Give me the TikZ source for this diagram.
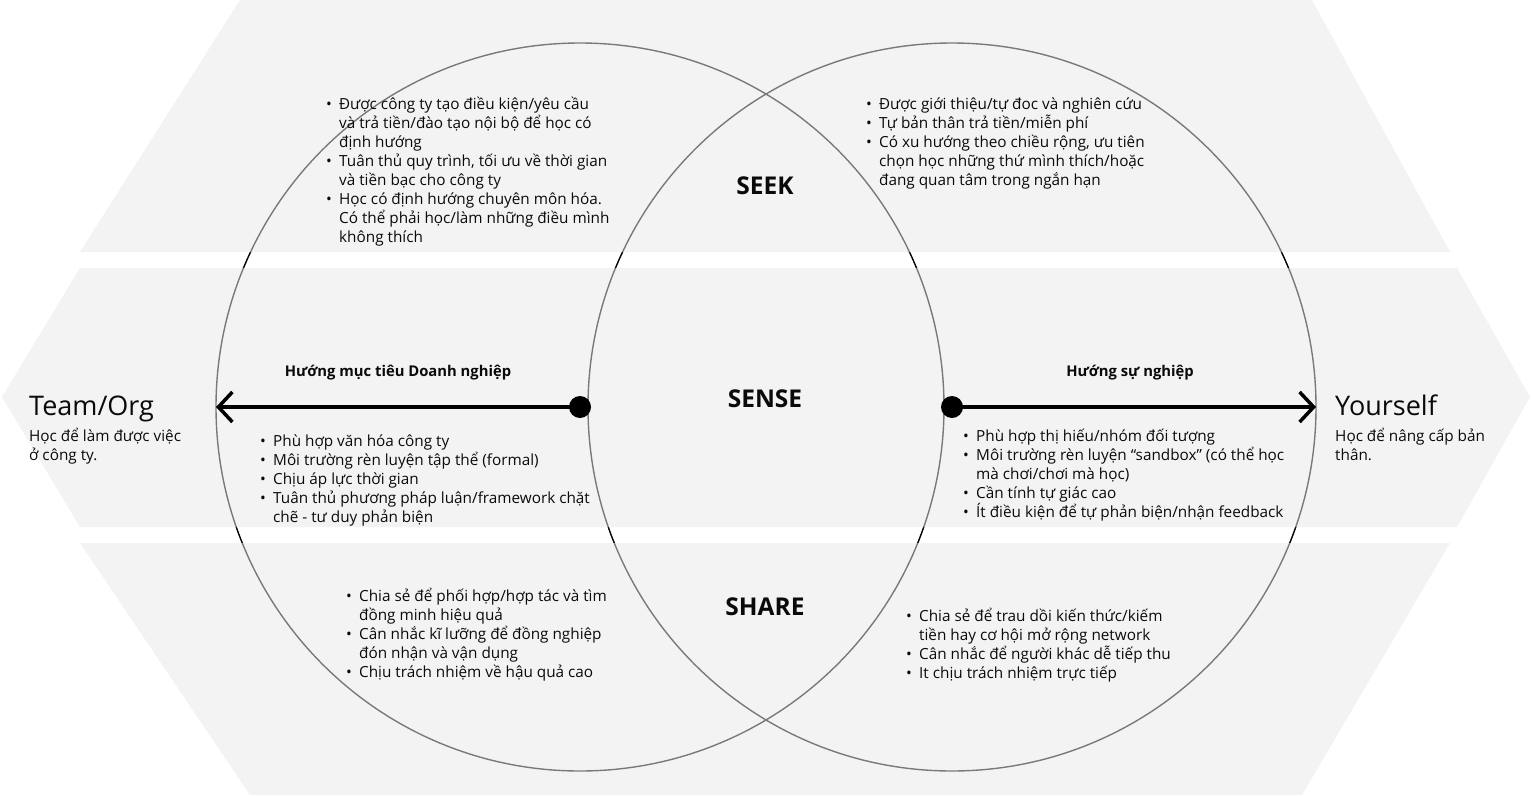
\documentclass[tikz,border=0pt]{standalone}
\usepackage{fontspec}
\setmainfont{Open Sans}
\usetikzlibrary{arrows.meta}
\definecolor{band}{HTML}{E9E9E9}
\definecolor{ink}{HTML}{0A0A0A}
% bullet cell of fixed width, text column follows
\newcommand\bl{\makebox[13pt][l]{\textbullet}}
\newenvironment{blist}{\begin{tabular}[t]{@{}l@{}l@{}}}{\end{tabular}}
\newenvironment{lines}{\begin{tabular}[t]{@{}l@{}}}{\end{tabular}}
\tikzset{
  ring/.style={circle, draw=black, line width=1.4pt, minimum size=728pt, inner sep=0pt},
  bandfill/.style={fill=band, fill opacity=0.52, draw=none},
  listtext/.style={anchor=base west, inner sep=0pt, text=ink, font=\fontsize{15.3}{19}\selectfont},
  zone/.style={anchor=base, inner sep=0pt, text=ink, font=\bfseries\fontsize{24.5}{28}\selectfont},
  dirlabel/.style={anchor=base, inner sep=0pt, text=ink, font=\bfseries\fontsize{14.8}{18}\selectfont},
  side/.style={anchor=base west, inner sep=0pt, text=ink, font=\fontsize{27}{32}\selectfont},
  sidesub/.style={anchor=base west, inner sep=0pt, text=ink, font=\fontsize{15.3}{19}\selectfont},
  hub/.style={circle, fill=black, minimum size=22pt, inner sep=0pt},
  pointer/.style={line width=3.5pt, line cap=round, -{Straight Barb[length=14pt,width=30pt,line width=3.5pt]}},
}
\begin{document}
\begin{tikzpicture}[x=1pt,y=-1pt]
\useasboundingbox[fill=white] (0,0) rectangle (1531,795);

% the two overlapping circles
\node[ring] (orgring) at (580,407) {};
\node[ring] (selfring) at (952,407) {};

% translucent bands laid over the circles
\path[bandfill] (240,0) -- (1312,0) -- (1450,252) -- (80,252) -- cycle;
\path[bandfill] (80,268) -- (1457,268) -- (1530,397) -- (1457,527) -- (80,527) -- (2,397) -- cycle;
\path[bandfill] (80,543) -- (1450,543) -- (1302,795) -- (250,795) -- cycle;

% direction arrows
\node[hub] (hubL) at (580,407) {};
\node[hub] (hubR) at (952,407) {};
\coordinate (tipL) at (216,407);
\coordinate (tipR) at (1316,407);
\draw[pointer] (hubL.center) -- (tipL);
\draw[pointer] (hubR.center) -- (tipR);

\node[dirlabel] (goalL) at (398,376) {Hướng mục tiêu Doanh nghiệp};
\node[dirlabel] (goalR) at (1130,376) {Hướng sự nghiệp};

% row titles
\node[zone] (seek) at (765,194) {SEEK};
\node[zone] (sense) at (765,407) {SENSE};
\node[zone] (share) at (765,615) {SHARE};

% side labels
\node[side] (org) at (29,415) {Team/Org};
\node[sidesub] (orgsub) at (29,441) {\begin{lines}Học để làm được việc\\ở công ty.\end{lines}};
\node[side] (self) at (1335,415) {Yourself};
\node[sidesub] (selfsub) at (1335,441) {\begin{lines}Học để nâng cấp bản\\thân.\end{lines}};

% bullet lists
\node[listtext] (seekorg) at (326,109) {\begin{blist}
\bl & Được công ty tạo điều kiện/yêu cầu\\
    & và trả tiền/đào tạo nội bộ để học có\\
    & định hướng\\
\bl & Tuân thủ quy trình, tối ưu về thời gian\\
    & và tiền bạc cho công ty\\
\bl & Học có định hướng chuyên môn hóa.\\
    & Có thể phải học/làm những điều mình\\
    & không thích
\end{blist}};

\node[listtext] (seekself) at (866,109) {\begin{blist}
\bl & Được giới thiệu/tự đoc và nghiên cứu\\
\bl & Tự bản thân trả tiền/miễn phí\\
\bl & Có xu hướng theo chiều rộng, ưu tiên\\
    & chọn học những thứ mình thích/hoặc\\
    & đang quan tâm trong ngắn hạn
\end{blist}};

\node[listtext] (senseorg) at (260,446) {\begin{blist}
\bl & Phù hợp văn hóa công ty\\
\bl & Môi trường rèn luyện tập thể (formal)\\
\bl & Chịu áp lực thời gian\\
\bl & Tuân thủ phương pháp luận/framework chặt\\
    & chẽ - tư duy phản biện
\end{blist}};

\node[listtext] (senseself) at (963,441) {\begin{blist}
\bl & Phù hợp thị hiếu/nhóm đối tượng\\
\bl & Môi trường rèn luyện “sandbox” (có thể học\\
    & mà chơi/chơi mà học)\\
\bl & Cần tính tự giác cao\\
\bl & Ít điều kiện để tự phản biện/nhận feedback
\end{blist}};

\node[listtext] (shareorg) at (346,601) {\begin{blist}
\bl & Chia sẻ để phối hợp/hợp tác và tìm\\
    & đồng minh hiệu quả\\
\bl & Cân nhắc kĩ lưỡng để đồng nghiệp\\
    & đón nhận và vận dụng\\
\bl & Chịu trách nhiệm về hậu quả cao
\end{blist}};

\node[listtext] (shareself) at (906,621) {\begin{blist}
\bl & Chia sẻ để trau dồi kiến thức/kiếm\\
    & tiền hay cơ hội mở rộng network\\
\bl & Cân nhắc để người khác dễ tiếp thu\\
\bl & It chịu trách nhiệm trực tiếp
\end{blist}};
\end{tikzpicture}
\end{document}
